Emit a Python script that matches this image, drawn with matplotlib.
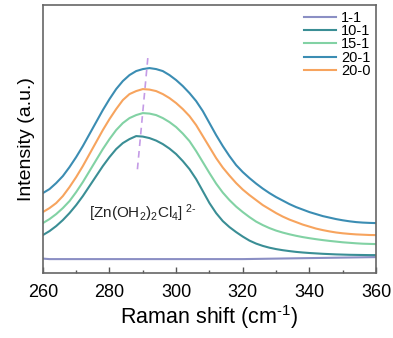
import matplotlib
matplotlib.use("Agg")
import matplotlib.pyplot as plt
from matplotlib.ticker import MultipleLocator

plt.rcParams['font.family'] = ['Liberation Sans', 'DejaVu Sans']
plt.rcParams['mathtext.fontset'] = 'custom'
plt.rcParams['mathtext.rm'] = 'Liberation Sans'
plt.rcParams['mathtext.it'] = 'Liberation Sans'

raman_shift = list(range(260, 361, 2))

s_1_1 = [14.5] + [14.0] * 30 + [14.1, 14.2, 14.3, 14.4, 14.5, 14.6, 14.7, 14.8, 14.9, 15.0,
                                 15.1, 15.2, 15.3, 15.4, 15.5, 15.6, 15.7, 15.8, 15.9, 16.0]
s_10_1 = [38, 42, 47, 53, 60, 68, 77, 87, 97, 107, 116, 124, 130, 134, 137,
          136.5, 135, 132.5, 129, 124.5, 119, 112, 104, 94, 82, 70, 60, 52, 46, 41,
          36.5, 32.5, 29.5, 27.2, 25.4, 24, 22.9, 22, 21.2, 20.6, 20.1, 19.7, 19.3,
          19, 18.7, 18.5, 18.3, 18.2, 18.1, 18, 18]
s_15_1 = [50, 54, 59, 65, 72, 81, 91, 102, 113, 124, 134, 143, 150, 155, 158, 160,
          159.5, 158, 155, 151, 146, 139.5, 132, 122, 111, 100, 89.5, 80.5, 73, 66.5,
          61, 56, 51.5, 48, 45, 42.5, 40.5, 38.8, 37.3, 36, 34.9, 33.9, 33, 32.2,
          31.5, 30.8, 30.3, 29.8, 29.4, 29.2, 29]
s_20_1 = [80, 84, 90, 97, 106, 116, 127, 139, 151, 163, 174, 184, 192, 198, 202, 204,
          205, 204, 202, 198, 193, 187, 180, 172, 162, 150, 138, 127, 117, 108,
          101, 95, 89.5, 84.5, 80, 76, 72.5, 69, 66, 63.5, 61, 59, 57, 55.5,
          54, 52.8, 51.8, 51, 50.5, 50.2, 50]
s_20_0 = [61, 65, 70, 77, 86, 96, 107, 119, 131, 143, 154, 164, 173, 179, 182, 184,
          183.5, 182, 179, 175, 170, 164, 157, 148, 137, 126, 115, 105.5, 97.5, 90,
          83.5, 78, 73, 68, 64, 60, 56.5, 53.5, 51, 48.5, 46.5, 44.5, 43, 41.7,
          40.6, 39.8, 39.2, 38.7, 38.4, 38.1, 38]

labels = ['1-1', '10-1', '15-1', '20-1', '20-0']
colors = ['#8b8fc4', '#3a8e95', '#82d2a4', '#3b8db3', '#f7a45e']
series = [s_1_1, s_10_1, s_15_1, s_20_1, s_20_0]

guide_x = [291.5, 288.3]
guide_y = [215, 101]

fig = plt.figure(figsize=(3.93, 3.38), dpi=100)
ax = fig.add_axes([0.109, 0.192, 0.848, 0.793])

for ys, c, lab in zip(series, colors, labels):
    ax.plot(raman_shift, ys, color=c, lw=1.5, label=lab)

ax.plot(guide_x, guide_y, color='#c49be6', lw=1.2, ls=(0, (4, 3)))

ax.text(290, 60, r'[Zn(OH$_2$)$_2$Cl$_4$]$^{\ 2\text{-}}$', fontsize=11,
        ha='center', va='center', color='#222222')

ax.set_xlim(260, 360)
ax.set_ylim(0, 268)
ax.xaxis.set_major_locator(MultipleLocator(20))
ax.xaxis.set_minor_locator(MultipleLocator(10))
ax.set_yticks([])
ax.tick_params(axis='x', which='major', direction='in', length=4, width=1,
               labelsize=13, pad=7.5, color='#555555')
ax.tick_params(axis='x', which='minor', direction='in', length=2.5, width=1,
               color='#555555')
for sp in ax.spines.values():
    sp.set_color('#666666')
    sp.set_linewidth(1.2)

ax.set_xlabel(r'Raman shift (cm$^{\text{-}1}$)', fontsize=15.5, labelpad=2)
ax.set_ylabel('Intensity (a.u.)', fontsize=14, labelpad=6)

leg = ax.legend(loc='upper right', frameon=False, fontsize=10.5, labelspacing=-0.05,
                handlelength=2.2, handletextpad=0.3, borderaxespad=0.0)

fig.savefig('out.png', dpi=100)
